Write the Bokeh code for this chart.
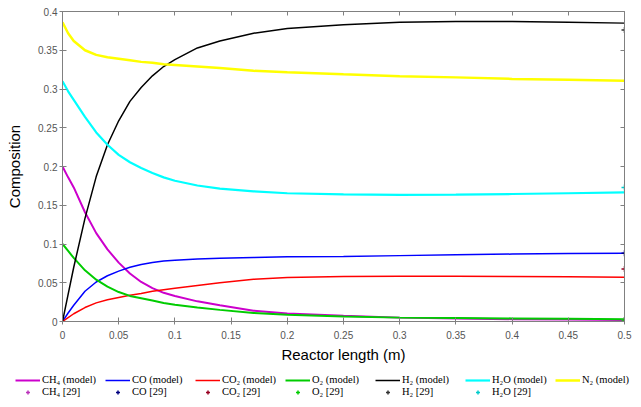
from bokeh.plotting import figure
from bokeh.layouts import column
from bokeh.models import LinearAxis, Legend, LegendItem, FixedTicker, Range1d
from bokeh.embed import file_html
from bokeh.resources import INLINE

# reactor length (m)
x = [0, 0.005, 0.01, 0.02, 0.03, 0.04, 0.05, 0.06, 0.07, 0.08, 0.09, 0.1,
     0.12, 0.14, 0.17, 0.2, 0.25, 0.3, 0.35, 0.4, 0.45, 0.5]

ch4_model = [0.2, 0.186, 0.173, 0.141, 0.114, 0.093, 0.076, 0.062, 0.051, 0.043, 0.037, 0.033,
             0.026, 0.021, 0.014, 0.0103, 0.0074, 0.005, 0.004, 0.003, 0.0025, 0.002]
co_model = [0, 0.011, 0.021, 0.039, 0.051, 0.059, 0.065, 0.070, 0.0735, 0.076, 0.078, 0.079,
            0.0808, 0.0815, 0.0825, 0.0835, 0.084, 0.085, 0.086, 0.087, 0.0877, 0.088]
co2_model = [0, 0.005, 0.010, 0.018, 0.024, 0.028, 0.031, 0.034, 0.036, 0.039, 0.041, 0.043,
             0.0465, 0.050, 0.0545, 0.0568, 0.058, 0.0585, 0.0585, 0.058, 0.0577, 0.057]
o2_model = [0.1, 0.091, 0.082, 0.066, 0.054, 0.045, 0.0380, 0.033, 0.030, 0.027, 0.024, 0.0216,
            0.018, 0.015, 0.011, 0.0086, 0.0065, 0.005, 0.0045, 0.004, 0.0035, 0.003]
h2_model = [0, 0.035, 0.07, 0.133, 0.187, 0.228, 0.259, 0.284, 0.302, 0.317, 0.329, 0.338,
            0.353, 0.362, 0.372, 0.378, 0.383, 0.386, 0.387, 0.387, 0.386, 0.385]
h2o_model = [0.31, 0.297, 0.286, 0.264, 0.244, 0.228, 0.215, 0.2055, 0.198, 0.1915, 0.186, 0.1816,
             0.1755, 0.1715, 0.168, 0.1655, 0.164, 0.1635, 0.1637, 0.1645, 0.1655, 0.1665]
n2_model = [0.386, 0.372, 0.362, 0.350, 0.344, 0.341, 0.339, 0.337, 0.335, 0.334, 0.332, 0.331,
            0.329, 0.327, 0.3235, 0.3215, 0.319, 0.3166, 0.315, 0.313, 0.312, 0.3105]

# literature data [29] at reactor outlet
x_ref = [0.5]
ch4_ref = [0.002]
co_ref = [0.088]
co2_ref = [0.0676]
o2_ref = [0.002]
h2_ref = [0.376]
h2o_ref = [0.173]

x_ticks = [0, 0.05, 0.1, 0.15, 0.2, 0.25, 0.3, 0.35, 0.4, 0.45, 0.5]
y_ticks = [0, 0.05, 0.1, 0.15, 0.2, 0.25, 0.3, 0.35, 0.4]
x_tick_labels = {0: "0", 0.05: "0.05", 0.1: "0.1", 0.15: "0.15", 0.2: "0.2", 0.25: "0.25",
                 0.3: "0.3", 0.35: "0.35", 0.4: "0.4", 0.45: "0.45", 0.5: "0.5"}
y_tick_labels = {0: "0", 0.05: "0.05", 0.1: "0.1", 0.15: "0.15", 0.2: "0.2", 0.25: "0.25",
                 0.3: "0.3", 0.35: "0.35", 0.4: "0.4"}

AX = "#808080"
TICKLBL = "#555555"

p = figure(width=641, height=370, output_backend="svg", toolbar_location=None,
           x_range=Range1d(0, 0.5), y_range=Range1d(0, 0.4),
           min_border_left=62, min_border_right=17, min_border_top=11, min_border_bottom=49,
           x_axis_label="Reactor length (m)", y_axis_label="Composition")
p.outline_line_color = None
p.grid.visible = False
p.background_fill_color = "white"
p.border_fill_color = "white"

for ax, ticks, labels in ((p.xaxis[0], x_ticks, x_tick_labels), (p.yaxis[0], y_ticks, y_tick_labels)):
    ax.ticker = FixedTicker(ticks=ticks)
    ax.major_label_overrides = labels
    ax.minor_tick_line_color = None
    ax.major_tick_in = 4
    ax.major_tick_out = 3
    ax.axis_line_color = AX
    ax.major_tick_line_color = AX
    ax.major_label_text_font = "Liberation Sans"
    ax.major_label_text_font_size = "10px"
    ax.major_label_text_color = TICKLBL
    ax.axis_label_text_font = "Liberation Sans"
    ax.axis_label_text_font_size = "15px"
    ax.axis_label_text_font_style = "normal"
    ax.axis_label_text_color = "black"
p.xaxis[0].major_label_standoff = 6
p.xaxis[0].axis_label_standoff = 4
p.yaxis[0].major_label_standoff = 2
p.yaxis[0].axis_label_standoff = 12

# unlabeled top and right frame axes with inward ticks
for side, ticks in (("above", x_ticks), ("right", y_ticks)):
    ax = LinearAxis(ticker=FixedTicker(ticks=ticks), major_label_text_font_size="1px",
                    major_label_text_color=None,
                    major_label_standoff=0, major_tick_in=4, major_tick_out=0,
                    minor_tick_line_color=None, axis_line_color=AX, major_tick_line_color=AX)
    p.add_layout(ax, side)

models = [
    ("CH\u2084 (model)", ch4_model, "#cc00cc", 2),
    ("CO (model)", co_model, "#0000ff", 1.5),
    ("CO\u2082 (model)", co2_model, "#ff0000", 1.5),
    ("O\u2082 (model)", o2_model, "#00cc00", 2),
    ("H\u2082 (model)", h2_model, "#000000", 1.5),
    ("H\u2082O (model)", h2o_model, "#00ffff", 2.2),
    ("N\u2082 (model)", n2_model, "#ffff00", 2.5),
]
refs = [
    ("CH\u2084 [29]", ch4_ref, "#bb33bb"),
    ("CO [29]", co_ref, "#000080"),
    ("CO\u2082 [29]", co2_ref, "#990022"),
    ("O\u2082 [29]", o2_ref, "#00cc00"),
    ("H\u2082 [29]", h2_ref, "#333333"),
    ("H\u2082O [29]", h2o_ref, "#00cccc"),
]

for label, ys, color, lw in models:
    p.line(x, ys, line_color=color, line_width=lw)
for label, ys, color in refs:
    p.scatter(x_ref, ys, marker="cross", size=6, line_color=color, line_width=1.5)

# legend strip below the chart (its ranges keep the proxy series out of view)
q = figure(width=641, height=37, output_backend="svg", toolbar_location=None,
           x_range=Range1d(2, 3), y_range=Range1d(2, 3), x_axis_type=None, y_axis_type=None,
           min_border=0)
q.frame_align = False
q.outline_line_color = None
q.grid.visible = False

model_items = []
for label, ys, color, lw in models:
    r = q.line(x, ys, line_color=color, line_width=lw)
    model_items.append(LegendItem(label=label, renderers=[r]))
ref_items = []
for label, ys, color in refs:
    r = q.scatter(x_ref, ys, marker="cross", size=6, line_color=color, line_width=1.5)
    ref_items.append(LegendItem(label=label, renderers=[r]))

common = dict(orientation="horizontal", glyph_width=25, glyph_height=10, label_height=10,
              label_width=60, label_standoff=2, spacing=3, padding=0, margin=0,
              border_line_color=None, background_fill_alpha=0,
              label_text_font="Liberation Serif", label_text_font_size="10.5px",
              label_text_color="black")
leg1 = Legend(items=model_items, location=(15, 22), **common)
leg2 = Legend(items=ref_items, location=(15, 10), **common)
q.add_layout(leg1, "center")
q.add_layout(leg2, "center")

layout = column(p, q, spacing=0)
open("out.html", "w").write(file_html(layout, INLINE))
